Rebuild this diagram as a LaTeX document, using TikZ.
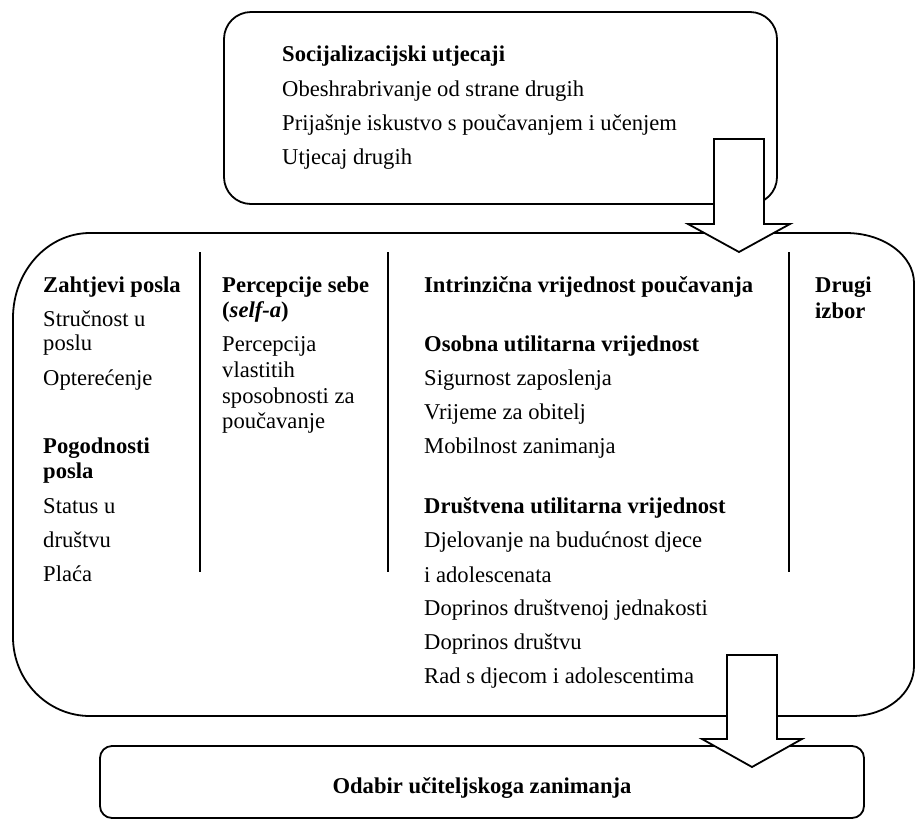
\documentclass[tikz,border=0pt]{standalone}
\usepackage{fontspec}
\setmainfont{Liberation Serif}
\begin{document}
\begin{tikzpicture}[x=1pt,y=-1pt,
  box/.style={line width=1.8pt},
  txt/.style={anchor=base west, inner sep=0pt, font=\fontsize{22.6}{25}\selectfont},
  btxt/.style={anchor=base west, inner sep=0pt, font=\fontsize{22.6}{25}\selectfont\bfseries},
  divider/.style={line width=1.8pt},
  blockarrow/.style={line width=1.8pt, fill=white, line join=miter}]
\useasboundingbox (0,0) rectangle (916,820);
\fill[white] (0,0) rectangle (916,820);

% top box
\draw[box, rounded corners=27pt] (224,12) rectangle (777,204);
\node[btxt] (s0) at (282,61) {Socijalizacijski utjecaji};
\node[txt] (s1) at (282,96) {Obeshrabrivanje od strane drugih};
\node[txt] (s2) at (282,130) {Prijašnje iskustvo s poučavanjem i učenjem};
\node[txt] (s3) at (282,164) {Utjecaj drugih};

% middle box
\draw[box] (90,233) -- (846,233)
  .. controls (883.6,233) and (914,255.4) .. (914,283)
  -- (914,666)
  .. controls (914,693.6) and (886.2,716) .. (852,716)
  -- (90,716)
  .. controls (47.5,716) and (13,680.6) .. (13,637)
  -- (13,318)
  .. controls (13,271.1) and (47.5,233) .. (90,233) -- cycle;

% dividers
\draw[divider] (200,252) -- (200,572);
\draw[divider] (388,252) -- (388,572);
\draw[divider] (789,252) -- (789,572);

% column 1
\node[btxt] (c1a) at (43,292) {Zahtjevi posla};
\node[txt] (c1b) at (43,326) {Stručnost u};
\node[txt] (c1c) at (43,350) {poslu};
\node[txt] (c1d) at (43,385) {Opterećenje};
\node[btxt] (c1e) at (43,453) {Pogodnosti};
\node[btxt] (c1f) at (43,478) {posla};
\node[txt] (c1g) at (43,513) {Status u};
\node[txt] (c1h) at (43,547) {društvu};
\node[txt] (c1i) at (43,581) {Plaća};

% column 2
\node[btxt] (c2a) at (222,292) {Percepcije sebe};
\node[btxt] (c2b) at (222,317) {(\textit{self-a})};
\node[txt] (c2c) at (222,351) {Percepcija};
\node[txt] (c2d) at (222,377) {vlastitih};
\node[txt] (c2e) at (222,403) {sposobnosti za};
\node[txt] (c2f) at (222,428) {poučavanje};

% column 3
\node[btxt] (c3a) at (424,292) {Intrinzična vrijednost poučavanja};
\node[btxt] (c3b) at (424,351) {Osobna utilitarna vrijednost};
\node[txt] (c3c) at (424,385) {Sigurnost zaposlenja};
\node[txt] (c3d) at (424,419) {Vrijeme za obitelj};
\node[txt] (c3e) at (424,453) {Mobilnost zanimanja};
\node[btxt] (c3f) at (424,513) {Društvena utilitarna vrijednost};
\node[txt] (c3g) at (424,547) {Djelovanje na budućnost djece};
\node[txt] (c3h) at (424,582) {i adolescenata};
\node[txt] (c3i) at (424,615) {Doprinos društvenoj jednakosti};
\node[txt] (c3j) at (424,649) {Doprinos društvu};
\node[txt] (c3k) at (424,683) {Rad s djecom i adolescentima};

% column 4
\node[btxt] (c4a) at (815,292) {Drugi};
\node[btxt] (c4b) at (815,318) {izbor};

% bottom box
\draw[box, rounded corners=12pt] (100,746) rectangle (864,818);
\node[btxt, anchor=base] (odabir) at (482,793) {Odabir učiteljskoga zanimanja};

% block arrows
\draw[blockarrow] (714,139) -- (764,139) -- (764,224) -- (790,224) -- (739,252) -- (688,224) -- (714,224) -- cycle;
\draw[blockarrow] (727,655) -- (777,655) -- (777,739) -- (802,739) -- (752,767) -- (702,739) -- (727,739) -- cycle;
\end{tikzpicture}
\end{document}
